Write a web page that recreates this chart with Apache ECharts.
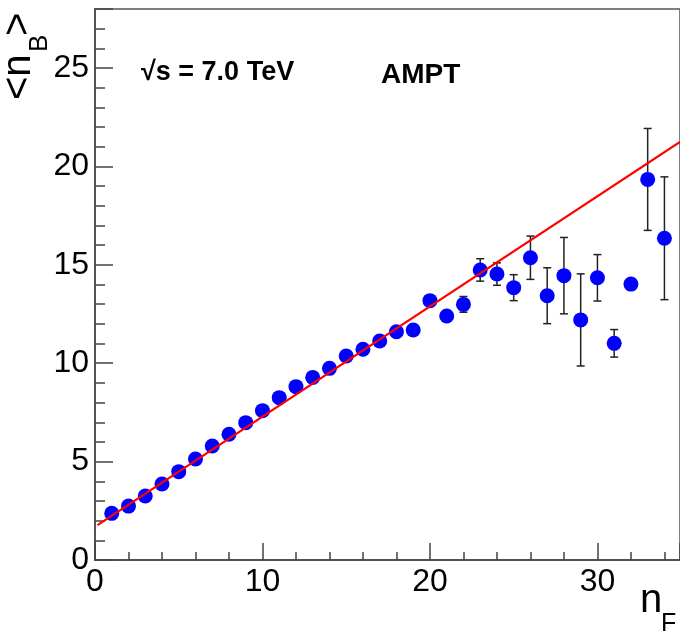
<!DOCTYPE html>
<html><head><meta charset="utf-8">
<script src="https://cdn.jsdelivr.net/npm/echarts@6/dist/echarts.min.js"></script>
<style>html,body{margin:0;padding:0;background:#fff}#c{width:680px;height:636px}</style>
</head><body><div id="c"></div>
<script>
const nF = [1,2,3,4,5,6,7,8,9,10,11,12,13,14,15,16,17,18,19,20,21,22,23,24,25,26,27,28,29,30,31,32,33,34];
const meanNB = [2.37,2.74,3.25,3.86,4.49,5.13,5.79,6.39,6.98,7.59,8.25,8.81,9.28,9.74,10.37,10.71,11.13,11.60,11.69,13.18,12.40,12.99,14.74,14.53,13.84,15.36,13.43,14.45,12.20,14.34,11.01,14.02,19.34,16.35];
const errNB = [0,0,0,0,0,0,0,0,0,0,0,0,0,0,0,0,0,0,0,0,0,0.40,0.57,0.57,0.66,1.10,1.42,1.94,2.34,1.18,0.70,0,2.59,3.12];
const fitX = [0.15, 34.93];
const fitY = [1.77, 21.25];
const xTickLabels = [0,10,20,30];
const yTickLabels = [0,5,10,15,20,25];
const annotEnergy = '\u221As = 7.0 TeV';
const annotModel = 'AMPT';

const FONT = '"Liberation Sans", Arial, Helvetica, sans-serif';
const AX = '#444';
const chart = echarts.init(document.getElementById('c'), null, {renderer:'canvas'});

const gridBox = {left:95, top:9, bottom:76, right:0, containLabel:false, outerBoundsMode:'none'};

const option = {
  backgroundColor:'#fff',
  animation:false,
  grid:[
    Object.assign({show:true, borderColor:'#555', borderWidth:1.5, backgroundColor:'transparent'}, gridBox),
    Object.assign({show:false}, gridBox)
  ],
  xAxis:[
    {type:'value', gridIndex:0, min:0, max:34.93, interval:10, position:'bottom',
     axisLine:{show:true, onZero:false, lineStyle:{color:AX, width:1.5}},
     axisTick:{show:true, inside:true, length:17, lineStyle:{color:AX, width:1.5}},
     axisLabel:{show:true, fontSize:32, color:'#000', fontFamily:FONT, margin:6,
       showMaxLabel:true, hideOverlap:false,
       formatter:v => xTickLabels.includes(v) ? String(v) : ''},
     splitLine:{show:false}},
    {type:'value', gridIndex:1, min:0, max:34.93, interval:2, position:'bottom',
     axisLine:{show:false},
     axisTick:{show:true, inside:true, length:8, lineStyle:{color:AX, width:1.5}},
     axisLabel:{show:false}, splitLine:{show:false}}
  ],
  yAxis:[
    {type:'value', gridIndex:0, min:0, max:28, interval:5, position:'left',
     axisLine:{show:true, onZero:false, lineStyle:{color:AX, width:1.5}},
     axisTick:{show:true, inside:true, length:18, lineStyle:{color:AX, width:1.5}},
     axisLabel:{show:true, fontSize:32, color:'#000', fontFamily:FONT, margin:6,
       hideOverlap:false,
       formatter:v => yTickLabels.includes(v) ? String(v) : ''},
     splitLine:{show:false}},
    {type:'value', gridIndex:1, min:0, max:28, interval:1, position:'left',
     axisLine:{show:false},
     axisTick:{show:true, inside:true, length:10, lineStyle:{color:AX, width:1.5}},
     axisLabel:{show:false}, splitLine:{show:false}}
  ],
  series:[
    {type:'custom', xAxisIndex:0, yAxisIndex:0, z:2,
     data: nF.map((x,i)=> errNB[i] > 0 ? [x, meanNB[i]-errNB[i], meanNB[i]+errNB[i]] : null).filter(Boolean),
     encode:{x:0, y:[1,2]},
     renderItem:(params, api) => {
       const x = api.value(0);
       const lo = api.coord([x, api.value(1)]);
       const hi = api.coord([x, api.value(2)]);
       const w = 4;
       const st = {stroke:'#222', lineWidth:1.5};
       return {type:'group', children:[
         {type:'line', shape:{x1:lo[0], y1:lo[1], x2:hi[0], y2:hi[1]}, style:st},
         {type:'line', shape:{x1:hi[0]-w, y1:hi[1], x2:hi[0]+w, y2:hi[1]}, style:st},
         {type:'line', shape:{x1:lo[0]-w, y1:lo[1], x2:lo[0]+w, y2:lo[1]}, style:st}
       ]};
     }},
    {type:'scatter', xAxisIndex:0, yAxisIndex:0, z:3,
     data: nF.map((x,i)=>[x, meanNB[i]]),
     symbol:'circle', symbolSize:15, itemStyle:{color:'#0000ff', opacity:1}},
    {type:'line', xAxisIndex:0, yAxisIndex:0, z:4,
     data: fitX.map((x,i)=>[x, fitY[i]]),
     showSymbol:false, symbol:'none', lineStyle:{color:'#ff0000', width:2.2}}
  ],
  graphic:[
    {type:'text', x:19, y:100, rotation:Math.PI/2, style:{text:'<n', font:'40px '+FONT, fill:'#000', align:'left', verticalAlign:'middle'}},
    {type:'text', x:40, y:52, rotation:Math.PI/2, style:{text:'B', font:'26px '+FONT, fill:'#000', align:'left', verticalAlign:'middle'}},
    {type:'text', x:19, y:36, rotation:Math.PI/2, style:{text:'>', font:'40px '+FONT, fill:'#000', align:'left', verticalAlign:'middle'}},
    {type:'text', x:640, y:601, style:{text:'n', font:'40px '+FONT, fill:'#000', align:'left', verticalAlign:'middle'}},
    {type:'text', x:661, y:624, style:{text:'F', font:'25px '+FONT, fill:'#000', align:'left', verticalAlign:'middle'}},
    {type:'text', x:141, y:73, style:{text:annotEnergy, font:'bold 27px '+FONT, fill:'#000', align:'left', verticalAlign:'middle'}},
    {type:'text', x:381, y:75, style:{text:annotModel, font:'bold 28px '+FONT, fill:'#000', align:'left', verticalAlign:'middle'}}
  ]
};
chart.setOption(option);
</script>
</body></html>
